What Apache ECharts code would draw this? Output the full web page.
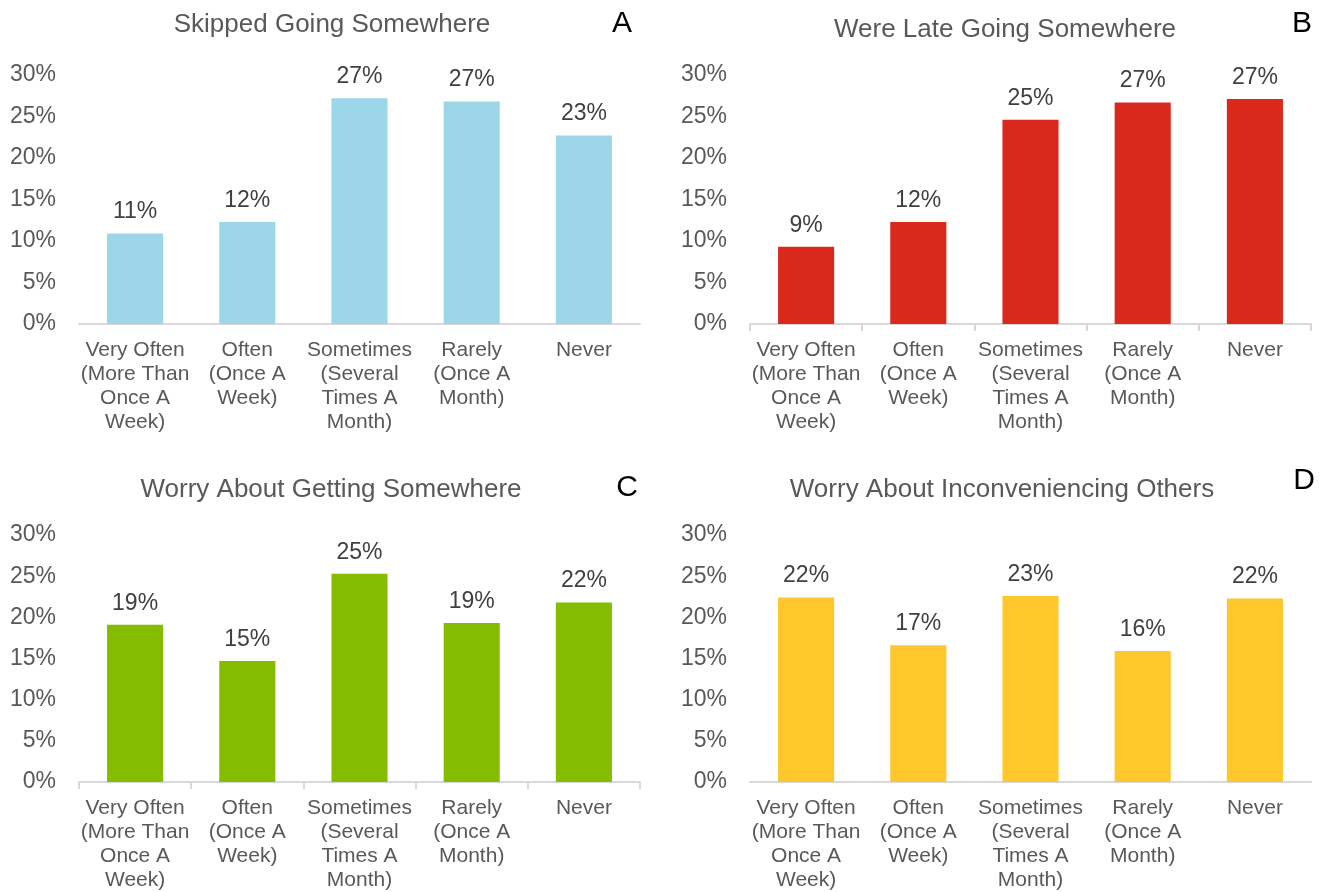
<!DOCTYPE html>
<html>
<head>
<meta charset="utf-8">
<title>Transportation Experiences</title>
<script src="https://cdn.jsdelivr.net/npm/echarts@6/dist/echarts.min.js"></script>
<style>
  html, body { margin: 0; padding: 0; background: #ffffff; }
  #chart { width: 1322px; height: 892px; }
</style>
</head>
<body>
<div id="chart"></div>
<script>
// Frequency categories shared by all four panels
const categories = [
  'Very Often\n(More Than\nOnce A\nWeek)',
  'Often\n(Once A\nWeek)',
  'Sometimes\n(Several\nTimes A\nMonth)',
  'Rarely\n(Once A\nMonth)',
  'Never'
];

// Share of respondents (%) in each category
const skippedGoing = [10.9, 12.3, 27.2, 26.8, 22.7];
const lateGoing = [9.3, 12.3, 24.6, 26.7, 27.1];
const worryGetting = [19.1, 14.7, 25.3, 19.3, 21.8];
const worryInconveniencing = [22.4, 16.6, 22.6, 15.9, 22.3];

const panelTitles = [
  'Skipped Going Somewhere',
  'Were Late Going Somewhere',
  'Worry About Getting Somewhere',
  'Worry About Inconveniencing Others'
];
const panelLetters = ['A', 'B', 'C', 'D'];

const FONT = '"Liberation Sans", Arial, sans-serif';
const TEXT = '#595959';
const AXIS = '#d9d9d9';

const panels = [
  { data: skippedGoing, color: '#9dd6e9', grid: { left: 79, top: 75, width: 561, height: 249 }, ticks: false,
    title: [332, 25], letter: [622, 24] },
  { data: lateGoing, color: '#da291c', grid: { left: 750, top: 75, width: 561, height: 249 }, ticks: true,
    title: [1005, 30], letter: [1302, 24] },
  { data: worryGetting, color: '#84bd00', grid: { left: 79, top: 535, width: 561, height: 249 }, ticks: true,
    title: [331, 490], letter: [627, 488] },
  { data: worryInconveniencing, color: '#ffc72c', grid: { left: 750, top: 535, width: 561, height: 249 }, ticks: false,
    title: [1002, 490], letter: [1304, 481] }
];

const chart = echarts.init(document.getElementById('chart'), null, { renderer: 'canvas' });

const option = {
  backgroundColor: '#ffffff',
  animation: false,
  textStyle: { fontFamily: FONT },
  graphic: [],
  grid: [],
  xAxis: [],
  yAxis: [],
  series: []
};

panels.forEach((p, i) => {
  // Panel heading and panel letter
  option.graphic.push({
    type: 'text',
    x: p.title[0],
    y: p.title[1],
    style: {
      text: panelTitles[i],
      fontFamily: FONT,
      fontSize: 26,
      fill: TEXT,
      textAlign: 'center',
      textVerticalAlign: 'middle'
    }
  });
  option.graphic.push({
    type: 'text',
    x: p.letter[0],
    y: p.letter[1],
    style: {
      text: panelLetters[i],
      fontFamily: FONT,
      fontSize: 30,
      fill: '#000000',
      textAlign: 'center',
      textVerticalAlign: 'middle'
    }
  });
  option.grid.push(Object.assign({ containLabel: false }, p.grid));
  option.xAxis.push({
    type: 'category',
    gridIndex: i,
    data: categories,
    axisLine: { show: true, lineStyle: { color: AXIS, width: 2 } },
    axisTick: { show: p.ticks, length: 7, lineStyle: { color: AXIS, width: 2 } },
    axisLabel: {
      interval: 0,
      margin: 14,
      fontFamily: FONT,
      fontSize: 21,
      lineHeight: 24,
      color: TEXT
    },
    splitLine: { show: false }
  });
  option.yAxis.push({
    type: 'value',
    gridIndex: i,
    min: 0,
    max: 30,
    interval: 5,
    axisLine: { show: false },
    axisTick: { show: false },
    splitLine: { show: false },
    axisLabel: {
      formatter: '{value}%',
      margin: 23,
      fontFamily: FONT,
      fontSize: 23,
      color: TEXT
    }
  });
  option.series.push({
    type: 'bar',
    xAxisIndex: i,
    yAxisIndex: i,
    data: p.data,
    barWidth: '50%',
    itemStyle: { color: p.color },
    label: {
      show: true,
      position: 'top',
      distance: 10,
      fontFamily: FONT,
      fontSize: 23,
      color: '#404040',
      formatter: (d) => Math.round(d.value) + '%'
    }
  });
});

chart.setOption(option);
</script>
</body>
</html>
